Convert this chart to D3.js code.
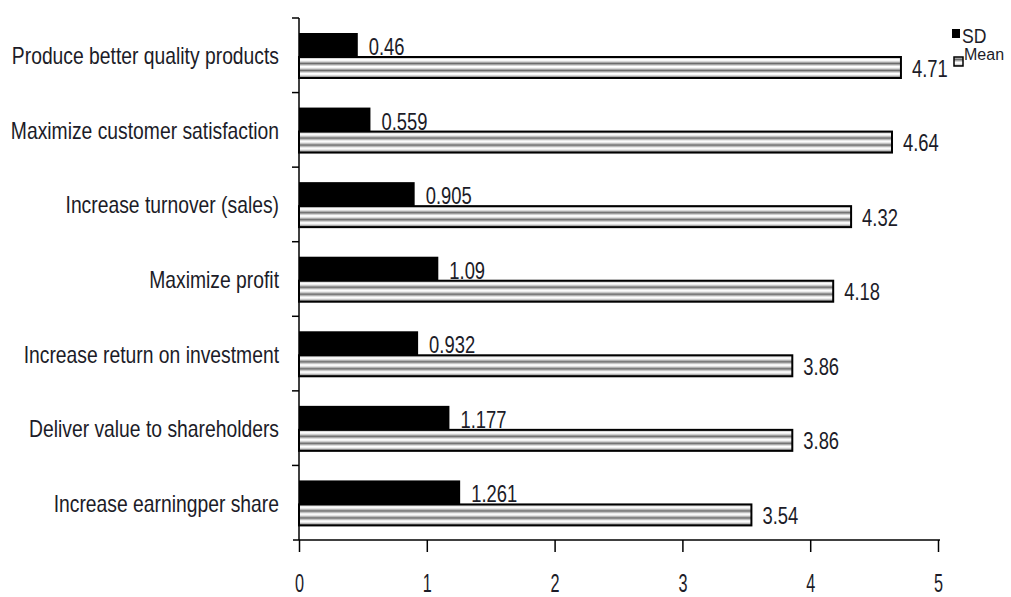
<!DOCTYPE html>
<html>
<head>
<meta charset="utf-8">
<script src="https://cdn.jsdelivr.net/npm/d3@7"></script>
<style>
  body { margin: 0; background: #fff; }
  text { font-family: "Liberation Sans", Arial, sans-serif; fill: #1c1c28; }
</style>
</head>
<body>
<div id="chart"></div>
<script>
// Chart data
var categories = ["Produce better quality products", "Maximize customer satisfaction", "Increase turnover (sales)",
	"Maximize profit", "Increase return on investment", "Deliver value to shareholders", "Increase earningper share"];
var sdValues = [0.46, 0.559, 0.905, 1.09, 0.932, 1.177, 1.261];
var meanValues = [4.71, 4.64, 4.32, 4.18, 3.86, 3.86, 3.54];
var sdLabels = ["0.46", "0.559", "0.905", "1.09", "0.932", "1.177", "1.261"];
var meanLabels = ["4.71", "4.64", "4.32", "4.18", "3.86", "3.86", "3.54"];
var xTicks = [0, 1, 2, 3, 4, 5];

var width = 1011, height = 597,
	margin = {top: 18, right: 73, bottom: 57, left: 299},
	w = width - margin.left - margin.right,
	h = height - margin.top - margin.bottom;

var svg = d3.select("#chart").append("svg")
	.attr("width", width)
	.attr("height", height);

// squeeze text sideways to mimic a narrow font
function narrow(sel, sx, fx, fy) {
	sel.attr("x", 0).attr("y", 0)
		.attr("transform", function(d, i) { return "translate(" + fx(d, i) + "," + fy(d, i) + ") scale(" + sx + ",1)"; });
}

// striped fill for the Mean bars
var defs = svg.append("defs");
var pat = defs.append("pattern")
	.attr("id", "stripes")
	.attr("patternUnits", "userSpaceOnUse")
	.attr("width", 10).attr("height", 7);
["#f6f6f6", "#d6d6d6", "#a4a4a4", "#6c6c6c", "#a4a4a4", "#d6d6d6", "#ffffff"].forEach(function(c, i) {
	pat.append("rect").attr("x", 0).attr("y", i).attr("width", 10).attr("height", 1).attr("fill", c);
});

var g = svg.append("g").attr("transform", "translate(" + margin.left + "," + margin.top + ")");

var x = d3.scaleLinear().domain([0, 5]).range([0, w]);
var y = d3.scaleBand().domain(categories).range([0, h]);
var inner = d3.scaleBand().domain(["sd", "mean"]).range([15, 61]);

// bars
var rows = g.selectAll(".row")
	.data(categories)
	.enter().append("g")
	.attr("class", "row")
	.attr("transform", function(d) { return "translate(0," + y(d) + ")"; });

rows.append("rect")
	.attr("x", 0)
	.attr("y", inner("sd"))
	.attr("width", function(d, i) { return x(sdValues[i]); })
	.attr("height", inner.bandwidth() + 1)
	.attr("fill", "#000");

rows.append("rect")
	.attr("x", 0)
	.attr("y", inner("mean") + 1)
	.attr("width", function(d, i) { return x(meanValues[i]); })
	.attr("height", inner.bandwidth() - 2)
	.attr("fill", "url(#stripes)")
	.attr("stroke", "#000")
	.attr("stroke-width", 2);

// value labels
rows.append("text")
	.attr("font-size", 23)
	.text(function(d, i) { return sdLabels[i]; })
	.call(narrow, 0.8,
		function(d, i) { return x(sdValues[i]) + 11; },
		function() { return inner("sd") + inner.bandwidth() - 1; });

rows.append("text")
	.attr("font-size", 23)
	.text(function(d, i) { return meanLabels[i]; })
	.call(narrow, 0.8,
		function(d, i) { return x(meanValues[i]) + 11; },
		function() { return inner("mean") + inner.bandwidth() / 2 + 9; });

// y axis
var yAxis = g.append("g").attr("class", "axis axis--y");
yAxis.append("line")
	.attr("x1", 0).attr("x2", 0).attr("y1", 0).attr("y2", h)
	.attr("stroke", "#000").attr("stroke-width", 1.5);
yAxis.selectAll(".ytick")
	.data(categories)
	.enter().append("line")
	.attr("x1", -7).attr("x2", 0)
	.attr("y1", function(d) { return y(d); }).attr("y2", function(d) { return y(d); })
	.attr("stroke", "#000").attr("stroke-width", 1.5);
yAxis.selectAll(".ylabel")
	.data(categories)
	.enter().append("text")
	.attr("text-anchor", "end")
	.attr("font-size", 23)
	.text(function(d) { return d; })
	.call(narrow, 0.84,
		function() { return -20; },
		function(d) { return y(d) + y.bandwidth() / 2 + 9; });

// x axis
var xAxis = d3.axisBottom(x).tickValues(xTicks).tickSize(12).tickFormat(d3.format("d"));
g.append("g")
	.attr("class", "axis axis--x")
	.attr("transform", "translate(0," + h + ")")
	.call(xAxis)
	.call(function(s) {
		s.select(".domain").attr("stroke-width", 1.5).attr("d", "M-6,0H" + (w + 2));
		s.selectAll(".tick line").attr("stroke-width", 1.5);
		s.selectAll(".tick text")
			.attr("font-size", 25)
			.attr("font-family", null)
			.attr("y", 0)
			.attr("dy", null)
			.attr("transform", "translate(0,52) scale(0.65,1)");
	});

// legend
var legend = svg.append("g");
legend.append("rect")
	.attr("x", 952).attr("y", 29).attr("width", 8).attr("height", 9)
	.attr("fill", "#000");
legend.append("text")
	.attr("font-size", 20)
	.attr("transform", "translate(962,43) scale(0.88,1)")
	.text("SD");
legend.append("rect")
	.attr("x", 954).attr("y", 57).attr("width", 9).attr("height", 9)
	.attr("fill", "url(#stripes)")
	.attr("stroke", "#000").attr("stroke-width", 1.5);
legend.append("text")
	.attr("font-size", 16)
	.attr("x", 964).attr("y", 60)
	.text("Mean");
</script>
</body>
</html>
